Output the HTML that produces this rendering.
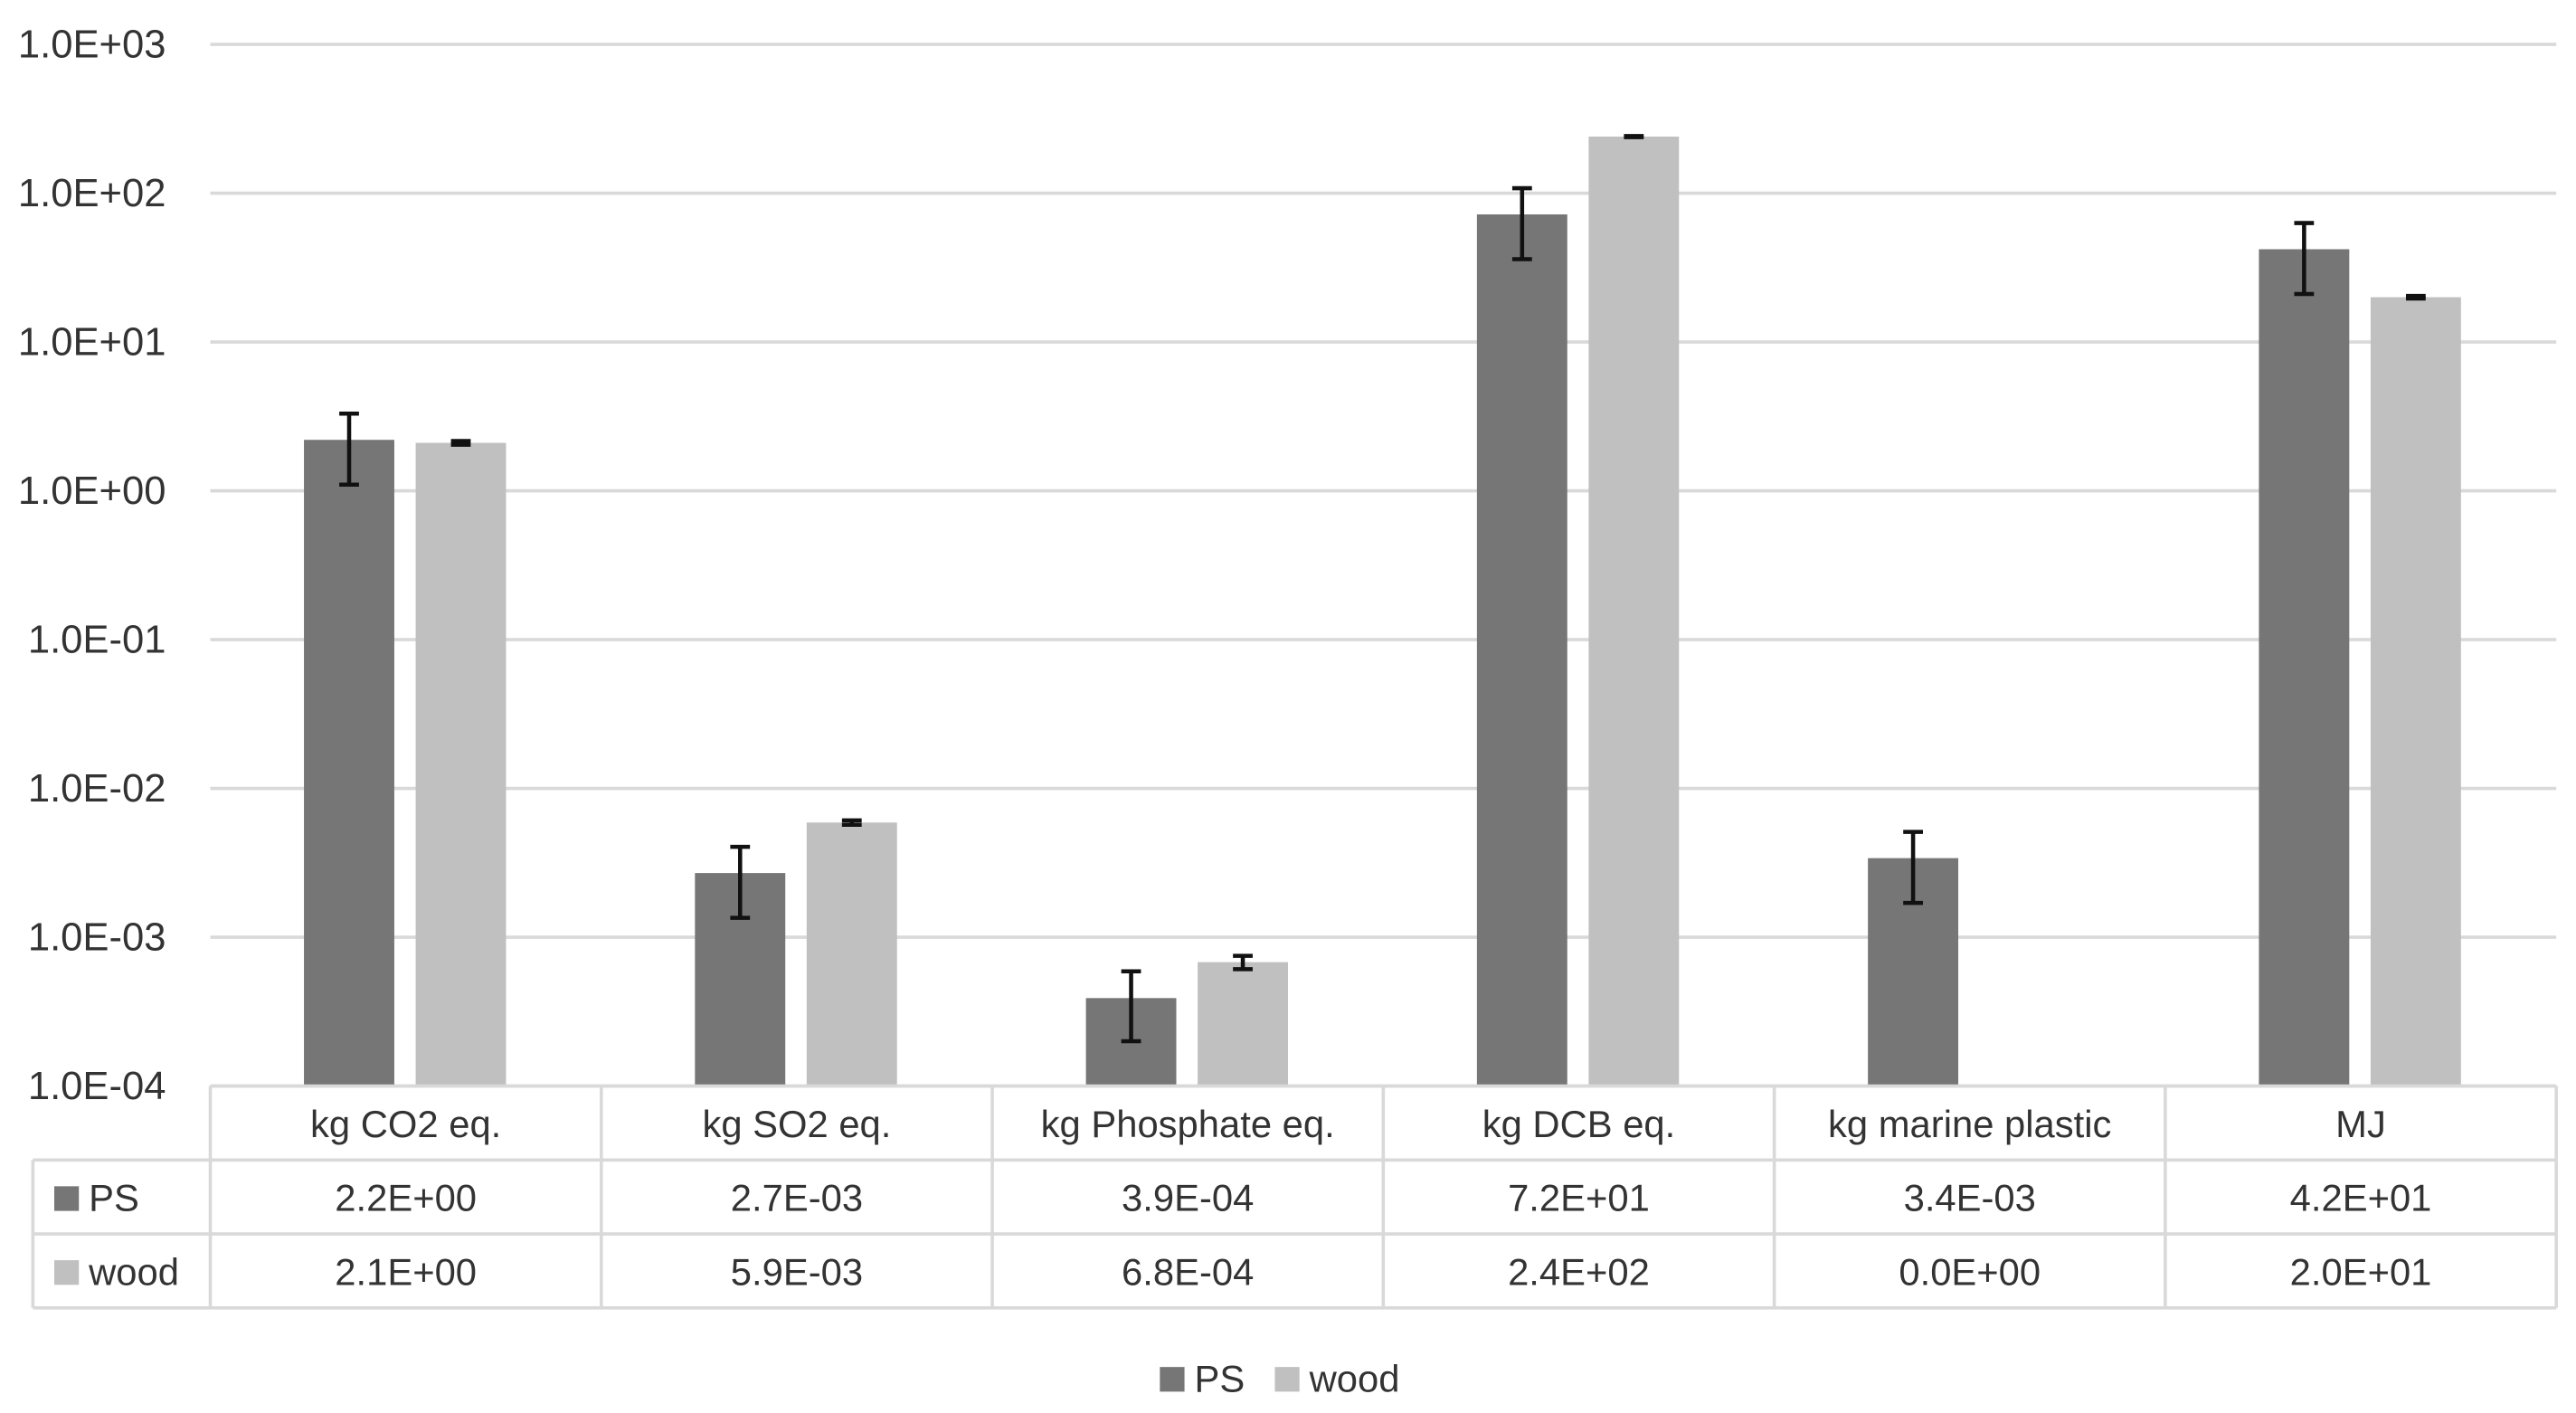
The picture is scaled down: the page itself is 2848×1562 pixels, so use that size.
<!DOCTYPE html>
<html><head><meta charset="utf-8"><style>
html,body{margin:0;padding:0;background:#fff;}
svg{display:block;}
text{font-family:"Liberation Sans",sans-serif;fill:#333;}
</style></head><body>
<svg id="chart" width="2848" height="1562" viewBox="0 0 1568 860" xmlns="http://www.w3.org/2000/svg"></svg>
<script>
const categories=["kg CO2 eq.","kg SO2 eq.","kg Phosphate eq.","kg DCB eq.","kg marine plastic","MJ"];
const psValues=[2.2,2.7e-3,3.9e-4,72,3.4e-3,42];
const woodValues=[2.1,5.9e-3,6.8e-4,240,0,20];
const psLabels=["2.2E+00","2.7E-03","3.9E-04","7.2E+01","3.4E-03","4.2E+01"];
const woodLabels=["2.1E+00","5.9E-03","6.8E-04","2.4E+02","0.0E+00","2.0E+01"];
const psErrLow=[1.1,1.35e-3,2.0e-4,36,1.7e-3,21];
const psErrHigh=[3.3,4.05e-3,5.9e-4,108,5.1e-3,63];
const woodErrLow=[2.04,5.7e-3,6.1e-4,238,0,19.6];
const woodErrHigh=[2.16,6.1e-3,7.5e-4,242,0,20.4];
const tickExps=[3,2,1,0,-1,-2,-3,-4];
const tickLabels=["1.0E+03","1.0E+02","1.0E+01","1.0E+00","1.0E-01","1.0E-02","1.0E-03","1.0E-04"];

const NS="http://www.w3.org/2000/svg";
const svg=document.getElementById('chart');
const plotL=128,plotR=1556,yTop=27,yBot=661,minExp=-4,maxExp=3;
const colW=(plotR-plotL)/categories.length;
const PS="#767676",WOOD="#c0c0c0",GRID="#d9d9d9";
function y(v){if(v<=0)return yBot;const e=Math.log10(v);return yBot-(e-minExp)/(maxExp-minExp)*(yBot-yTop);}
function cx(i){return plotL+colW*(i+0.5);}
function mk(tag,attrs,parent){const e=document.createElementNS(NS,tag);for(const k in attrs)e.setAttribute(k,attrs[k]);(parent||svg).appendChild(e);return e;}

tickExps.forEach((ex,i)=>{
  const yy=y(Math.pow(10,ex));
  const g=mk('line',{x1:plotL,x2:plotR,y1:yy,y2:yy,stroke:GRID,'stroke-width':2});
  
  
  const t=mk('text',{x:101,y:yy+8,'text-anchor':'end','font-size':24});
  t.textContent=tickLabels[i];
  
  
});

const bw=55;
function bar(v,x0,color,name){
  if(v<=0)return;
  const r=mk('rect',{x:x0,y:y(v),width:bw,height:yBot-y(v),fill:color});
  
  
}
function err(lo,hi,xc,name){
  if(hi<=0)return;
  const g=mk('g',{stroke:'#111','stroke-width':2.5});
  
  
  mk('line',{x1:xc,x2:xc,y1:y(hi),y2:y(lo)},g);
  mk('line',{x1:xc-6,x2:xc+6,y1:y(hi),y2:y(hi)},g);
  mk('line',{x1:xc-6,x2:xc+6,y1:y(lo),y2:y(lo)},g);
}
categories.forEach((c,i)=>{
  const c0=cx(i);
  bar(psValues[i],c0-62,PS,'bar-ps');
  bar(woodValues[i],c0+6,WOOD,'bar-wood');
  err(psErrLow[i],psErrHigh[i],c0-34.5,'error-bar-ps');
  err(woodErrLow[i],woodErrHigh[i],c0+33.5,'error-bar-wood');
});

const T=mk('g',{stroke:GRID,'stroke-width':2,fill:'none'});


const r0=661,r1=706,r2=751,r3=796;
[r0,r1,r2,r3].forEach((yy,k)=>mk('line',{x1:k==0?plotL:20,x2:plotR,y1:yy,y2:yy},T));
mk('line',{x1:20,x2:20,y1:r1,y2:r3},T);
for(let i=0;i<=categories.length;i++){mk('line',{x1:plotL+colW*i,x2:plotL+colW*i,y1:r0,y2:r3},T);}
categories.forEach((c,i)=>{
  const t=mk('text',{x:cx(i),y:r0+31,'text-anchor':'middle','font-size':23});t.textContent=c;
  
  
  const a=mk('text',{x:cx(i),y:r1+31,'text-anchor':'middle','font-size':23});a.textContent=psLabels[i];
  
  
  const b=mk('text',{x:cx(i),y:r2+31,'text-anchor':'middle','font-size':23});b.textContent=woodLabels[i];
  
  
});
function key(x,yy,color,label,name){
  const g=mk('g',{});
  
  
  mk('rect',{x:x,y:yy-14,width:15,height:15,fill:color},g);
  const t=mk('text',{x:x+21,y:yy+1,'font-size':23},g);t.textContent=label;
}
key(33,r1+30,PS,'PS','table-key-ps');
key(33,r2+30,WOOD,'wood','table-key-wood');
key(706,846,PS,'PS','legend-entry-ps');
key(776,846,WOOD,'wood','legend-entry-wood');
</script>
</body></html>
